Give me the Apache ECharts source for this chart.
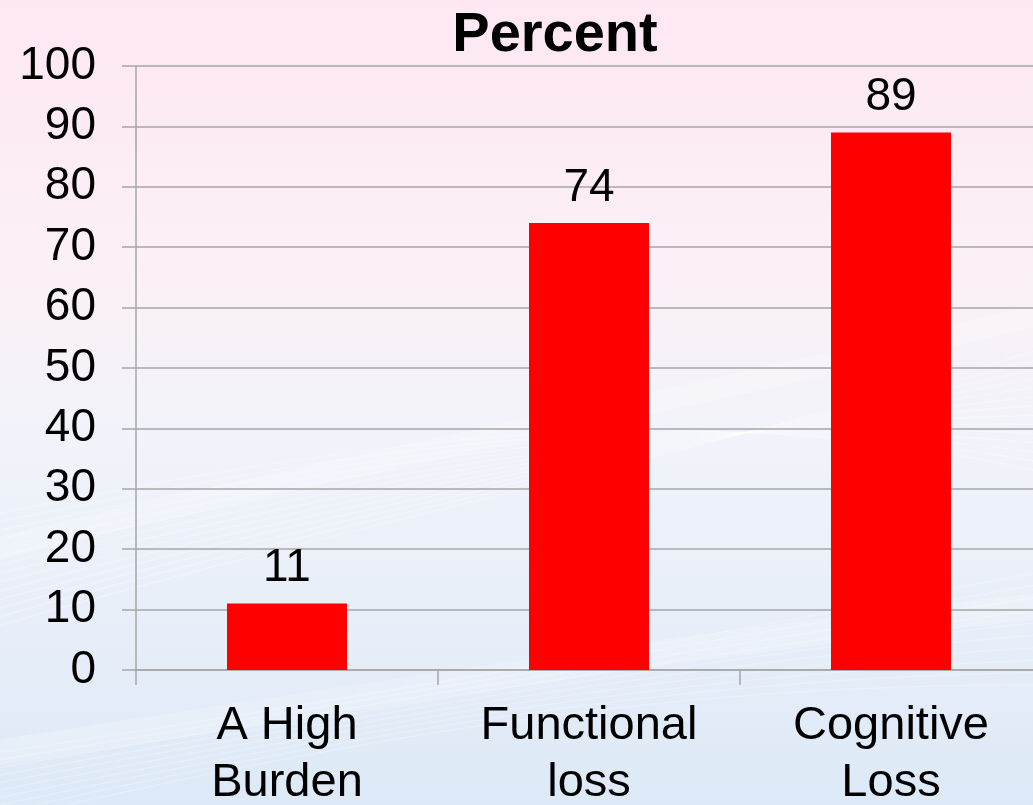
<!DOCTYPE html>
<html>
<head>
<meta charset="utf-8">
<title>Percent</title>
<script src="https://cdn.jsdelivr.net/npm/echarts@6/dist/echarts.min.js"></script>
<style>
  html, body { margin: 0; padding: 0; }
  #chart { width: 1033px; height: 805px; }
</style>
</head>
<body>
<div id="chart"></div>
<script>
// Chart data
const categories = ['A High\nBurden', 'Functional\nloss', 'Cognitive\nLoss'];
const percentValues = [11, 74, 89];
const yTicks = [0, 10, 20, 30, 40, 50, 60, 70, 80, 90, 100];

const FONT = 'Liberation Sans, Arial, Helvetica, sans-serif';
const GRID_COLOR = '#a6a6a6';

const chart = echarts.init(document.getElementById('chart'), null, { renderer: 'canvas' });

// Soft white swooshes across the lower background
function swoosh(y0, y1, cy, width, opacity) {
  return {
    type: 'bezierCurve',
    silent: true,
    z: -10,
    shape: { x1: -50, y1: y0, x2: 1100, y2: y1, cpx1: 350, cpy1: cy, cpx2: 700, cpy2: cy - 60 },
    style: { stroke: 'rgba(255,255,255,' + opacity + ')', lineWidth: width, fill: null }
  };
}
const waves = [];
for (let i = 0; i < 14; i++) {
  waves.push(swoosh(640 - i * 9, 330 + i * 12, 520 - i * 6, 1.5, 0.25));
}
for (let i = 0; i < 10; i++) {
  waves.push(swoosh(760 + i * 8, 560 + i * 14, 700 + i * 4, 1.5, 0.22));
}
waves.push(swoosh(560, 300, 460, 22, 0.22));
waves.push(swoosh(760, 600, 700, 26, 0.2));

chart.setOption({
  backgroundColor: {
    type: 'linear', x: 0, y: 0, x2: 0, y2: 1,
    colorStops: [
      { offset: 0, color: '#fde7f3' },
      { offset: 0.35, color: '#fbf0f7' },
      { offset: 0.55, color: '#f1f3fa' },
      { offset: 1, color: '#dde9f7' }
    ]
  },
  animation: false,
  graphic: waves,
  title: {
    text: 'Percent',
    left: 550,
    top: 3,
    textAlign: 'center',
    textStyle: { fontFamily: FONT, fontSize: 56, fontWeight: 'bold', color: '#000' }
  },
  grid: { left: 136, right: -9, top: 66, bottom: 135, containLabel: false, outerBoundsMode: 'none' },
  xAxis: {
    type: 'category',
    data: categories,
    axisLine: { show: true, lineStyle: { color: GRID_COLOR, width: 1.5 } },
    axisTick: { show: true, length: 15, alignWithLabel: false, lineStyle: { color: GRID_COLOR, width: 1.5 } },
    axisLabel: {
      fontFamily: FONT, fontSize: 47, color: '#000', margin: 28, lineHeight: 57, interval: 0
    }
  },
  yAxis: {
    type: 'value',
    min: yTicks[0],
    max: yTicks[yTicks.length - 1],
    interval: yTicks[1] - yTicks[0],
    axisLine: { show: true, lineStyle: { color: GRID_COLOR, width: 1.5 } },
    axisTick: { show: true, inside: false, length: 14, lineStyle: { color: GRID_COLOR, width: 1.5 } },
    splitLine: { show: true, lineStyle: { color: GRID_COLOR, width: 1.5 } },
    axisLabel: { fontFamily: FONT, fontSize: 46, color: '#000', margin: 40 }
  },
  series: [{
    type: 'bar',
    data: percentValues,
    barWidth: 120,
    itemStyle: { color: '#ff0000' },
    label: {
      show: true,
      position: 'top',
      distance: 12,
      fontFamily: FONT,
      fontSize: 46,
      color: '#000'
    }
  }]
});
</script>
</body>
</html>
